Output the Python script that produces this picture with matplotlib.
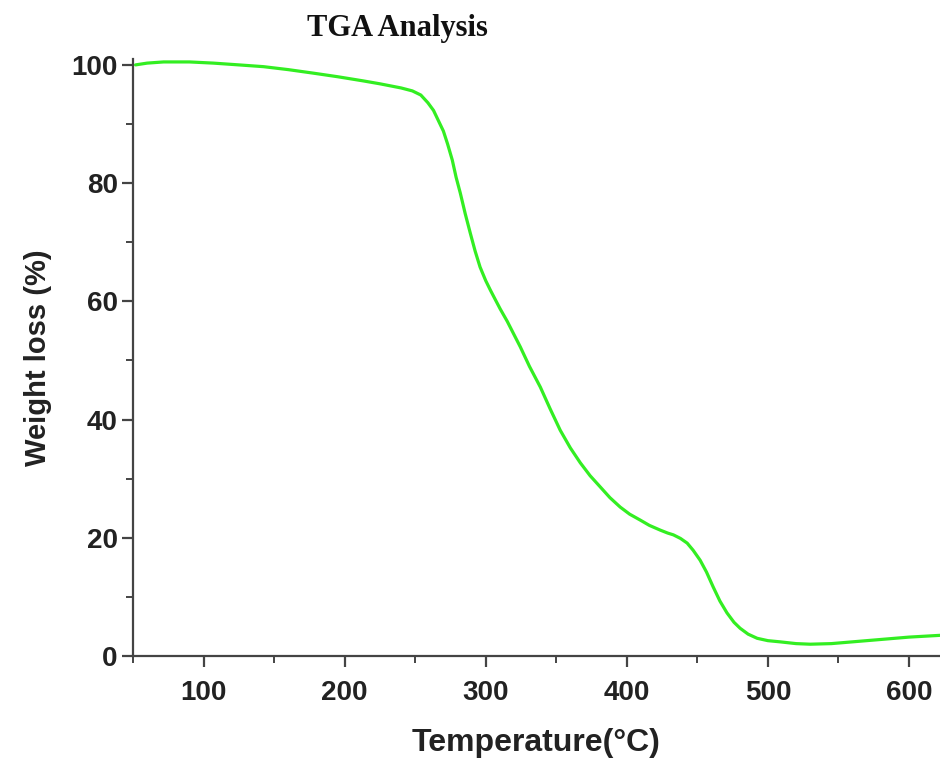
import numpy as np
import matplotlib
matplotlib.use("Agg")
import matplotlib.pyplot as plt
from matplotlib.ticker import MultipleLocator

# TGA curve, values
temperature = [51.8, 60, 71.7, 90, 107, 125, 142.5, 160, 177.9, 195, 213, 225, 240,
               248, 254, 259, 263, 267, 270, 273, 276.3, 279, 282, 285.5, 289,
               292.5, 296, 300, 303.3, 307, 310.3, 315.3, 320, 324.5, 331, 338.7,
               345.5, 352.8, 360, 367, 374, 381.2, 388, 395.3, 402, 409.5, 416,
               423.7, 429, 433, 438, 442.8, 447, 452, 456.5, 461.2, 466, 471,
               476, 480.3, 486, 492.4, 500, 508.6, 520, 530, 545, 560, 580, 600, 622]
weight = [100.0, 100.3, 100.5, 100.5, 100.3, 100.0, 99.7, 99.2, 98.6, 98.0, 97.3, 96.8, 96.1,
          95.6, 94.9, 93.6, 92.3, 90.3, 88.8, 86.6, 83.9, 81.0, 78.3, 74.8, 71.6,
          68.5, 65.8, 63.5, 61.9, 60.2, 58.7, 56.6, 54.4, 52.3, 49.0, 45.5,
          41.9, 38.2, 35.2, 32.7, 30.5, 28.6, 26.8, 25.2, 24.0, 23.0, 22.1,
          21.3, 20.8, 20.5, 19.9, 19.1, 17.9, 16.2, 14.2, 11.7, 9.3, 7.3,
          5.7, 4.7, 3.7, 3.0, 2.6, 2.4, 2.1, 2.0, 2.1, 2.4, 2.8, 3.2, 3.5]

x_ticks = [100, 200, 300, 400, 500, 600]
y_ticks = [0, 20, 40, 60, 80, 100]

plt.rcParams['font.family'] = ['Liberation Sans', 'DejaVu Sans']

fig = plt.figure(figsize=(9.4, 7.63), dpi=100)
ax = fig.add_axes([0.1415, 0.1402, 0.8585, 0.7825])

ax.plot(temperature, weight, color='#33ee22', linewidth=2.3,
        solid_capstyle='round', solid_joinstyle='round')

ax.set_xlim(50, 622)
ax.set_ylim(0, 101)
ax.set_xticks(x_ticks)
ax.set_yticks(y_ticks)
ax.xaxis.set_minor_locator(MultipleLocator(50))
ax.yaxis.set_minor_locator(MultipleLocator(10))

for side in ['top', 'right']:
    ax.spines[side].set_visible(False)
for side in ['left', 'bottom']:
    ax.spines[side].set_linewidth(1.6)
    ax.spines[side].set_color('#444444')

ax.tick_params(which='major', direction='out', length=8, width=1.6, color='#444444',
               labelsize=20)
ax.tick_params(which='minor', direction='out', length=5, width=1.4, color='#444444')
ax.tick_params(axis='x', which='major', pad=9)
ax.tick_params(axis='y', which='major', pad=3)
for lab in ax.get_xticklabels() + ax.get_yticklabels():
    lab.set_fontweight('bold')
    lab.set_color('#222222')

ax.set_xlabel('Temperature(°C)', fontsize=23, fontweight='bold', color='#222222', labelpad=16)
ax.set_ylabel('Weight loss (%)', fontsize=21, fontweight='bold', color='#222222', labelpad=14)

fig.text(0.4225, 0.962, 'TGA Analysis', ha='center', va='center', fontsize=22,
         fontweight='bold', family=['Liberation Serif', 'DejaVu Serif'], color='#111111')

fig.savefig('out.png', dpi=100)
